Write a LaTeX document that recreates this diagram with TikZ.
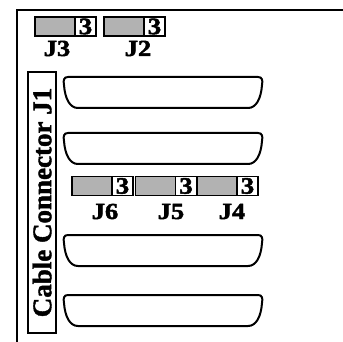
\documentclass[tikz,border=0pt]{standalone}
\usepackage{fontspec}
\setmainfont{Liberation Serif}
\newfontfamily\cablefont{Liberation Serif}[UprightFont={* Bold},FakeBold=1.5]
\newfontfamily\jfont{Liberation Serif}[UprightFont={* Bold},FakeStretch=1.15,FakeBold=2]
\usetikzlibrary{positioning}

\begin{document}
\begin{tikzpicture}[x=1pt,y=-1pt,line width=2pt,
  pin/.style={draw,fill=black!30,line width=1.5pt,outer sep=0pt,inner sep=0pt,minimum width=40pt,minimum height=19pt},
  num/.style={draw,fill=white,line width=1.5pt,outer sep=0pt,inner sep=0pt,minimum width=21pt,minimum height=19pt,font=\jfont\fontsize{23.5}{23.5}\selectfont},
  jlabel/.style={anchor=base,inner sep=0pt,font=\jfont\fontsize{23}{23}\selectfont},
  cable/.style={draw,rotate=90,line width=1.5pt,minimum width=261pt,minimum height=28pt,inner sep=0pt,font=\cablefont\fontsize{27}{27}\selectfont},
  plug/.style={line width=2pt}]
  \useasboundingbox (0,0) rectangle (343,342);
  \draw (17,342) -- (17,10) -- (343,10);

  \node[pin]               (g3) at (55,26.5)  {};
  \node[num, right=0pt of g3] (n3)          {3};
  \node[pin]               (g2) at (124,26.5) {};
  \node[num, right=0pt of g2] (n2)          {3};
  \node[jlabel]            (J3) at (57,56)    {J3};
  \node[jlabel]            (J2) at (138,56)   {J2};

  \node[cable]             (J1) at (42,202.5) {Cable Connector J1\hspace{15pt}};

  \node[pin]               (g6) at (92,186)   {};
  \node[num, right=0pt of g6] (n6)          {3};
  \node[pin]               (g5) at (155.5,186) {};
  \node[num, right=0pt of g5] (n5)          {3};
  \node[pin]               (g4) at (217,186)  {};
  \node[num, right=0pt of g4] (n4)          {3};
  \node[jlabel]            (J6) at (105,219)  {J6};
  \node[jlabel]            (J5) at (171,219)  {J5};
  \node[jlabel]            (J4) at (232,219)  {J4};

  \foreach \t in {77,133,235,295}
    \draw[plug] (68,\t) -- (258,\t) .. controls (262,\t) and (263,\t+3) .. (262,\t+8)
      .. controls (261,\t+22) and (256,\t+31) .. (248,\t+31) -- (78,\t+31)
      .. controls (70,\t+31) and (65,\t+22) .. (64,\t+8)
      .. controls (63,\t+3) and (64,\t) .. cycle;
\end{tikzpicture}
\end{document}
